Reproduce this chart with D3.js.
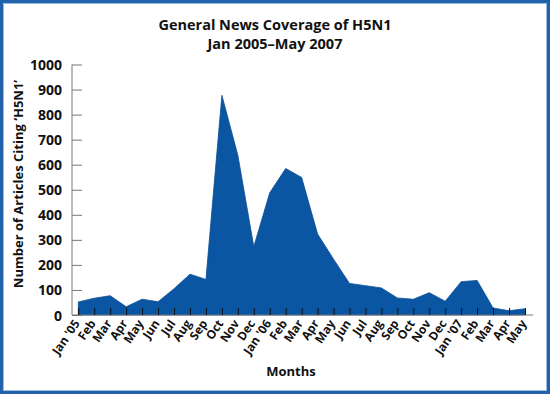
<!DOCTYPE html>
<head>
   <meta charset="utf-8">
   <script src="https://d3js.org/d3.v7.min.js"></script>
   <style>
   body{ margin: 0; background: #ffffff; }
   text{
      font-family: "Open Sans", sans-serif;
      font-weight: 700;
      fill: #111111;
   }
   text.title{ font-size: 14.5px; }
   text.axisTitle{ font-size: 13px; }
   .yAxis .tick text{ font-size: 14px; }
   .xAxis .tick text{ font-size: 12px; }
   .yAxis .tick line, .yAxis path.domain, .xAxis path.domain{ stroke: #777777; }
   .xAxis .tick line{ stroke: #111111; }
   </style>
</head>

<body>
   <script>
var width = 550;
var height = 394;

var titleLines = ["General News Coverage of H5N1", "Jan 2005–May 2007"];

var months = ["Jan '05","Feb","Mar","Apr","May","Jun","Jul","Aug","Sep","Oct","Nov","Dec",
              "Jan '06","Feb","Mar","Apr","May","Jun","Jul","Aug","Sep","Oct","Nov","Dec",
              "Jan '07","Feb","Mar","Apr","May"];

var articles = [52, 67, 77, 33, 63, 53, 105, 163, 142, 877, 638, 273,
                488, 585, 549, 323, 223, 126, 117, 108, 68, 63, 89, 55,
                133, 138, 28, 17, 25];

var yTicks = [0, 100, 200, 300, 400, 500, 600, 700, 800, 900, 1000];

var data = months.map((m, i) => ({ i: i, month: m, value: articles[i] }));

var svg = d3.select("body").append("svg")
   .attr("width", width)
   .attr("height", height);

// frame
svg.append("rect")
   .attr("x", 1.5).attr("y", 1.5)
   .attr("width", width - 3).attr("height", height - 3)
   .attr("fill", "#ffffff")
   .attr("stroke", "#2262aa")
   .attr("stroke-width", 3);

svg.append("rect")
   .attr("x", 3.5).attr("y", 3.5)
   .attr("width", width - 7).attr("height", height - 7)
   .attr("fill", "none")
   .attr("stroke", "#9cbde0")
   .attr("stroke-width", 1);

var x = d3.scaleLinear()
   .domain([0, months.length - 1])
   .range([78.3, 525]);

var y = d3.scaleLinear()
   .domain([0, 1000])
   .range([315, 64.5]);

// title, two lines
titleLines.forEach((t, i) => {
   svg.append("text")
      .attr("class", "title")
      .attr("x", 275)
      .attr("y", 30 + i * 19)
      .style("text-anchor", "middle")
      .text(t);
});

// area
var area = d3.area()
   .x(d => x(d.i))
   .y0(y(0))
   .y1(d => y(d.value));

svg.append("path")
   .datum(data)
   .attr("d", area)
   .attr("fill", "#0a56a3")
   .attr("stroke", "#0b4d92")
   .attr("stroke-width", 0.8);

// y axis
var yAxis = d3.axisRight(y)
   .tickValues(yTicks)
   .tickSize(10)
   .tickFormat(d3.format("d"));

var gy = svg.append("g")
   .attr("class", "yAxis")
   .attr("transform", "translate(72,0)")
   .call(yAxis);

gy.select("path.domain").attr("d", `M0,${y(1000)}V${y(0)}`);
gy.selectAll(".tick text")
   .attr("x", -10)
   .attr("dy", "0.36em")
   .style("text-anchor", "end");

// x axis
var xAxis = d3.axisBottom(x)
   .tickValues(data.map(d => d.i))
   .tickSize(-7)
   .tickFormat(i => months[i]);

var gx = svg.append("g")
   .attr("class", "xAxis")
   .attr("transform", `translate(0,${y(0)})`)
   .call(xAxis);

gx.select("path.domain").attr("d", "M72,0H533");
gx.selectAll(".tick text")
   .attr("transform", "translate(-2,6) rotate(-56)")
   .attr("x", 0).attr("y", 0)
   .attr("dy", "0.35em")
   .style("text-anchor", "end");

svg.append("text")
   .attr("class", "axisTitle")
   .attr("x", 291).attr("y", 376)
   .style("text-anchor", "middle")
   .text("Months");

svg.append("text")
   .attr("class", "axisTitle")
   .attr("transform", "translate(23,184) rotate(-90)")
   .style("text-anchor", "middle")
   .text("Number of Articles Citing ‘H5N1’");
   </script>
</body>
